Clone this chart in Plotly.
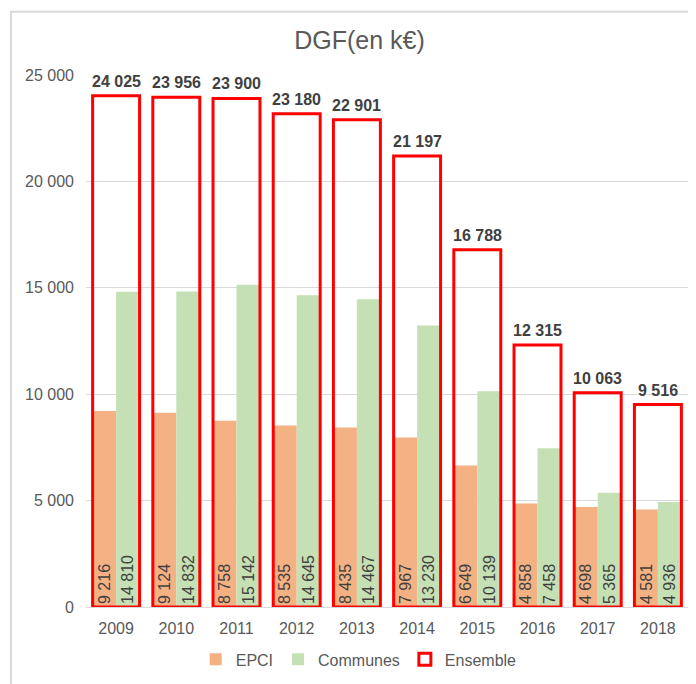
import plotly.graph_objects as go

years = ["2009", "2010", "2011", "2012", "2013", "2014", "2015", "2016", "2017", "2018"]
epci = [9216, 9124, 8758, 8535, 8435, 7967, 6649, 4858, 4698, 4581]
communes = [14810, 14832, 15142, 14645, 14467, 13230, 10139, 7458, 5365, 4936]
ensemble = [24025, 23956, 23900, 23180, 22901, 21197, 16788, 12315, 10063, 9516]
y_ticks = [0, 5000, 10000, 15000, 20000, 25000]


def fmt(v):
    return f"{v:,}".replace(",", " ")


TXT = "#404040"
AX = "#595959"
FONT = "Liberation Sans, Arial, sans-serif"

fig = go.Figure()
fig.add_trace(go.Bar(
    x=years, y=epci, name="EPCI", marker=dict(color="#F4B183", line=dict(width=0)),
    offset=-0.39, width=0.39,
    text=[fmt(v) for v in epci], textposition="inside", insidetextanchor="start",
    textangle=-90, textfont=dict(color=TXT, size=16, family=FONT), constraintext="none",
))
fig.add_trace(go.Bar(
    x=years, y=communes, name="Communes", marker=dict(color="#C5E0B4", line=dict(width=0)),
    offset=0.0, width=0.39,
    text=[fmt(v) for v in communes], textposition="inside", insidetextanchor="start",
    textangle=-90, textfont=dict(color=TXT, size=16, family=FONT), constraintext="none",
))
fig.add_trace(go.Bar(
    x=years, y=ensemble, name="Ensemble",
    marker=dict(color="rgba(255,255,255,0)", line=dict(color="#FF0000", width=3)),
    offset=-0.39, width=0.78,
))

# category axis: annotation x given as category index
for i, v in enumerate(ensemble):
    fig.add_annotation(x=i, y=v, xref="x", yref="y", text=f"<b>{fmt(v)}</b>", showarrow=False,
                       xanchor="center", yanchor="bottom", yshift=4,
                       font=dict(color=TXT, size=16, family=FONT))

W, H = 688, 676
PH = H - 67 - 71
fig.update_layout(
    width=W, height=H,
    barmode="overlay",
    paper_bgcolor="white", plot_bgcolor="white",
    margin=dict(l=78, r=8, t=67, b=71),
    font=dict(family=FONT, color=AX, size=16),
    title=dict(text="DGF(en k€)", x=351.5 / W, xanchor="center", y=1 - 32 / H, yanchor="middle",
               font=dict(size=25, color=AX, family=FONT)),
    showlegend=True,
    legend=dict(orientation="h", x=0.453, xanchor="center", y=-53 / PH, yanchor="middle",
                font=dict(size=16, color=AX), traceorder="normal", itemwidth=30),
)
fig.update_yaxes(range=[0, 25000], tickvals=y_ticks, ticktext=[fmt(v) for v in y_ticks],
                 showgrid=True, gridcolor="#D9D9D9", gridwidth=1, zeroline=True,
                 zerolinecolor="#D9D9D9", zerolinewidth=1, showline=False,
                 tickfont=dict(size=16, color=AX), ticks="", ticklen=0, ticklabelstandoff=11)
fig.update_xaxes(type="category", range=[-0.5, len(years) - 0.5], showgrid=False, showline=False,
                 tickfont=dict(size=16, color=AX), ticks="", ticklabelstandoff=10)

fig.add_shape(type="rect", xref="paper", yref="paper",
              x0=-0.1246, x1=1.2, y0=-0.3, y1=1 + 64 / PH,
              line=dict(color="#D9D9D9", width=2), fillcolor="rgba(0,0,0,0)", layer="below")

fig.write_html("out.html")
